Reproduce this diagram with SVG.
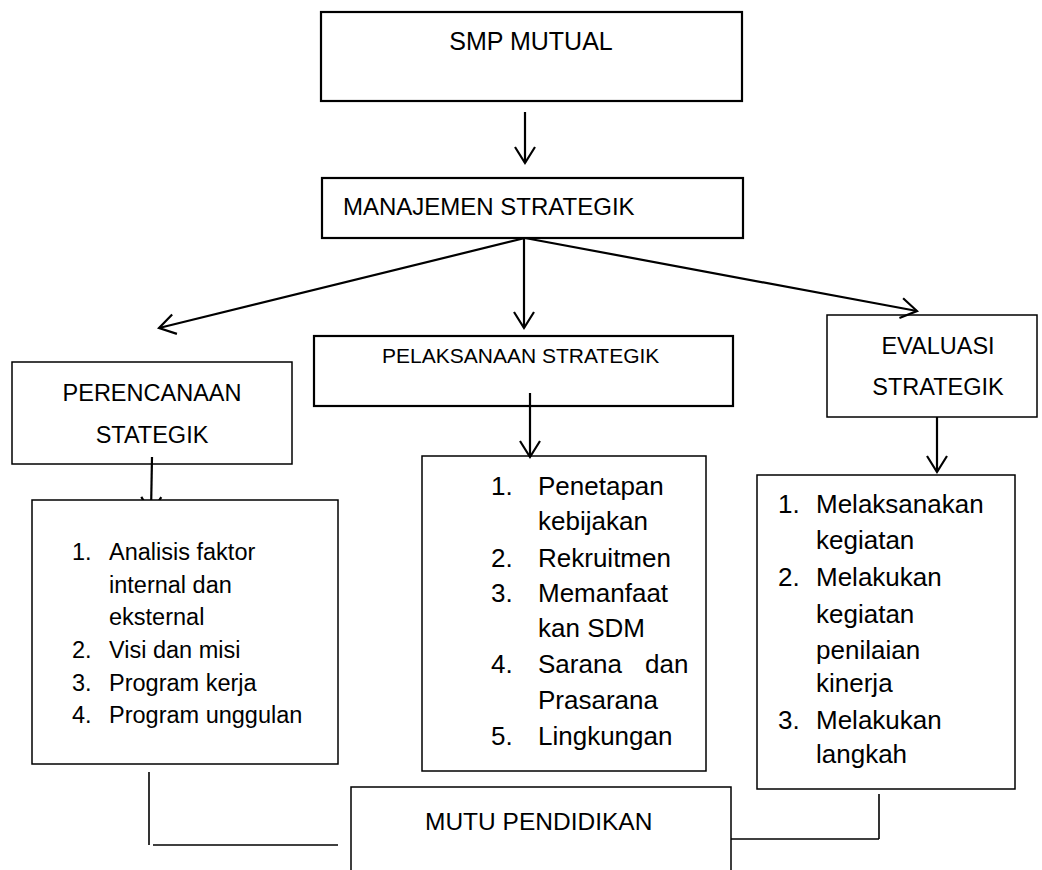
<svg xmlns="http://www.w3.org/2000/svg" width="1042" height="870" viewBox="0 0 1042 870">
<style>
  text { font-family: "Liberation Sans", Arial, sans-serif; fill: #000; }
  .box { fill: none; stroke: #000; stroke-width: 1.5; }
  .boxw { fill: #fff; stroke: #000; stroke-width: 1.5; }
  .thick { fill: none; stroke: #000; stroke-width: 2.2; }
  .conn { fill: none; stroke: #000; stroke-width: 2.2; }
  .thin { fill: none; stroke: #000; stroke-width: 1.6; }
  .t24 { font-size: 24px; }
  .t21 { font-size: 21px; }
  .t23 { font-size: 23.5px; }
  .t26 { font-size: 26px; }
  .mid { text-anchor: middle; }
</style>
<defs>
  <marker id="arr" markerUnits="userSpaceOnUse" viewBox="-2 -2 20 24" refX="16" refY="10" markerWidth="20" markerHeight="24" orient="auto" overflow="visible">
    <path d="M0,0 L16,10 L0,20" fill="none" stroke="#000" stroke-width="2.2"/>
  </marker>
</defs>

<g id="connectors">
  <line class="conn" x1="525" y1="112" x2="525" y2="163" marker-end="url(#arr)"/>
  <line class="conn" x1="525" y1="238" x2="159" y2="328" marker-end="url(#arr)"/>
  <line class="conn" x1="524" y1="238" x2="524" y2="328" marker-end="url(#arr)"/>
  <line class="conn" x1="525" y1="238" x2="917" y2="311" marker-end="url(#arr)"/>
  <line class="conn" x1="152" y1="457" x2="151" y2="513" marker-end="url(#arr)"/>
  <line class="conn" x1="530" y1="393" x2="530" y2="457" marker-end="url(#arr)"/>
  <line class="conn" x1="937" y1="417" x2="937" y2="472" marker-end="url(#arr)"/>
  <line class="thin" x1="149" y1="772" x2="149" y2="845"/>
  <line class="thin" x1="153" y1="845" x2="338" y2="845"/>
  <line class="thin" x1="879" y1="794" x2="879" y2="839"/>
  <line class="thin" x1="731" y1="839" x2="879" y2="839"/>
</g>

<g id="smp-mutual">
  <rect class="thick" x="321" y="12" width="421" height="89"/>
  <text class="mid" x="531" y="50" font-size="25">SMP MUTUAL</text>
</g>

<g id="manajemen-strategik">
  <rect class="thick" x="322" y="178" width="421" height="60"/>
  <text class="t24" x="343" y="215">MANAJEMEN STRATEGIK</text>
</g>

<g id="perencanaan-strategik">
  <rect class="box" x="12" y="362" width="280" height="102"/>
  <text class="t23 mid" x="152" y="401">PERENCANAAN</text>
  <text class="t23 mid" x="152" y="443">STATEGIK</text>
</g>

<g id="pelaksanaan-strategik">
  <rect class="thick" x="314" y="336" width="419" height="70"/>
  <text class="t21" x="382" y="363">PELAKSANAAN STRATEGIK</text>
</g>

<g id="evaluasi-strategik">
  <rect class="box" x="827" y="315" width="210" height="102"/>
  <text class="t23 mid" x="938" y="354">EVALUASI</text>
  <text class="t23 mid" x="938" y="395">STRATEGIK</text>
</g>

<g id="perencanaan-list">
  <rect class="boxw" x="32" y="500" width="306" height="264"/>
  <g class="t23">
    <text x="72" y="560">1.</text><text x="109" y="560">Analisis faktor</text>
    <text x="109" y="593">internal dan</text>
    <text x="109" y="625">eksternal</text>
    <text x="72" y="658">2.</text><text x="109" y="658">Visi dan misi</text>
    <text x="72" y="691">3.</text><text x="109" y="691">Program kerja</text>
    <text x="72" y="723">4.</text><text x="109" y="723">Program unggulan</text>
  </g>
</g>

<g id="pelaksanaan-list">
  <rect class="box" x="422" y="456" width="284" height="315"/>
  <g class="t26">
    <text x="491" y="495">1.</text><text x="538" y="495">Penetapan</text>
    <text x="538" y="530">kebijakan</text>
    <text x="491" y="567">2.</text><text x="538" y="567">Rekruitmen</text>
    <text x="491" y="602">3.</text><text x="538" y="602">Memanfaat</text>
    <text x="538" y="637">kan SDM</text>
    <text x="491" y="673">4.</text><text x="538" y="673">Sarana</text><text x="645" y="673">dan</text>
    <text x="538" y="709">Prasarana</text>
    <text x="491" y="745">5.</text><text x="538" y="745">Lingkungan</text>
  </g>
</g>

<g id="evaluasi-list">
  <rect class="box" x="757" y="475" width="258" height="314"/>
  <g class="t26">
    <text x="778" y="513">1.</text><text x="816" y="513">Melaksanakan</text>
    <text x="816" y="549">kegiatan</text>
    <text x="778" y="586">2.</text><text x="816" y="586">Melakukan</text>
    <text x="816" y="623">kegiatan</text>
    <text x="816" y="659">penilaian</text>
    <text x="816" y="692">kinerja</text>
    <text x="778" y="729">3.</text><text x="816" y="729">Melakukan</text>
    <text x="816" y="763">langkah</text>
  </g>
</g>

<g id="mutu-pendidikan">
  <path class="box" d="M351,875 V787 H731 V875"/>
  <text x="425" y="830" font-size="24.5">MUTU PENDIDIKAN</text>
</g>
</svg>
